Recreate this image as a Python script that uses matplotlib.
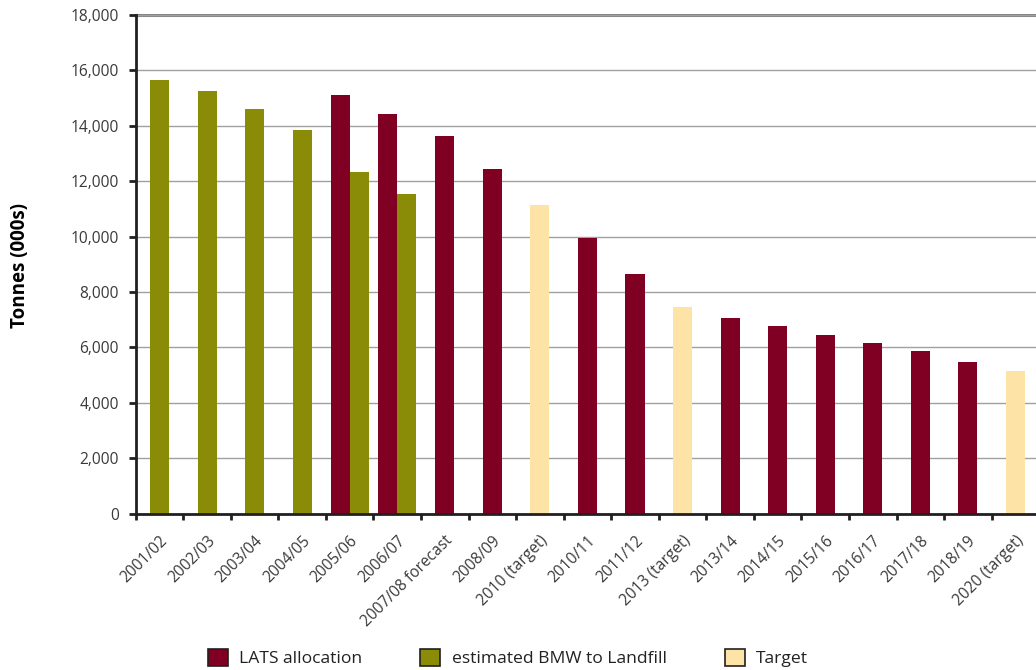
import numpy as np
import matplotlib.pyplot as plt
from matplotlib.patches import Patch

plt.rcParams['font.family'] = ['Open Sans', 'DejaVu Sans']

years = ['2001/02', '2002/03', '2003/04', '2004/05', '2005/06', '2006/07',
         '2007/08 forecast', '2008/09', '2010 (target)', '2010/11', '2011/12',
         '2013 (target)', '2013/14', '2014/15', '2015/16', '2016/17',
         '2017/18', '2018/19', '2020 (target)']

# thousand tonnes, None where a series has no value for that year
lats = [None, None, None, None, 15100, 14430, 13630, 12440, None, 9960,
        8660, None, 7070, 6780, 6460, 6170, 5880, 5480, None]
bmw = [15650, 15250, 14600, 13850, 12330, 11540, None, None, None, None,
       None, None, None, None, None, None, None, None, None]
target = [None, None, None, None, None, None, None, None, 11150, None,
          None, 7470, None, None, None, None, None, None, 5160]

series = [('LATS allocation', lats, '#800024'),
          ('estimated BMW to Landfill', bmw, '#8a8c07'),
          ('Target', target, '#fde4a6')]

fig = plt.figure(figsize=(10.36, 6.70), dpi=100)
ax = fig.add_axes([135.7 / 1036, 1 - 513.5 / 670, 903.5 / 1036, 498.5 / 670])

bw = 0.4
for i in range(len(years)):
    present = [(c, vals[i]) for _, vals, c in series if vals[i] is not None]
    n = len(present)
    for j, (c, v) in enumerate(present):
        ax.bar(i + (j - (n - 1) / 2) * bw, v, width=bw, color=c, zorder=2)

ax.set_xlim(-0.5, len(years) - 0.5)
ax.set_ylim(0, 18000)
ax.set_yticks(np.arange(0, 18001, 2000))
ax.set_yticklabels([f'{v:,}' for v in range(0, 18001, 2000)])
ax.yaxis.grid(True, color='#a0a0a0', linewidth=1, zorder=0)
ax.axhline(18000, color='#858585', linewidth=2.2, zorder=1, clip_on=False)

# category boundary ticks, labels at centres
ax.set_xticks(np.arange(len(years) + 1) - 0.5)
ax.set_xticklabels([])
ax.set_xticks(np.arange(len(years)), minor=True)
ax.set_xticklabels(years, minor=True, rotation=45, ha='right', va='top',
                   rotation_mode='anchor', fontsize=11.2, color='#3a3a3a')
ax.tick_params(axis='x', which='minor', length=0, pad=14)
ax.tick_params(axis='x', which='major', length=4, width=2, color='#231f20')
ax.tick_params(axis='y', length=5, width=2, color='#231f20', pad=7,
               labelsize=11.2, labelcolor='#3a3a3a')

for s in ['top', 'right']:
    ax.spines[s].set_visible(False)
for s in ['left', 'bottom']:
    ax.spines[s].set_color('#231f20')
    ax.spines[s].set_linewidth(2)
ax.spines['left'].set_zorder(3)

fig.text(20 / 1036, 1 - 266 / 670, 'Tonnes (000s)', rotation=90, ha='center',
         va='center', fontsize=13.5, fontweight='bold', color='black')

handles = [Patch(facecolor=c, edgecolor='#231f20', linewidth=1.2, label=l)
           for l, _, c in series]
fig.legend(handles=handles, loc='center', bbox_to_anchor=(508 / 1036, 1 - 658 / 670),
           ncol=3, frameon=False, fontsize=12.6, handlelength=1.15, handleheight=1.15,
           handletextpad=0.65, columnspacing=3.3, labelcolor='#222222')

fig.savefig('out.png', dpi=100)
